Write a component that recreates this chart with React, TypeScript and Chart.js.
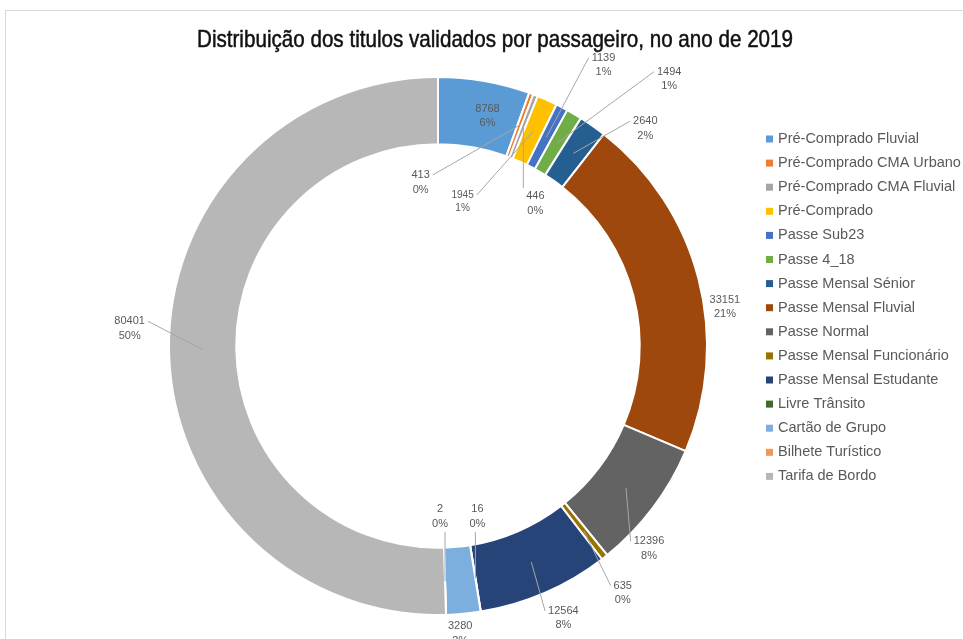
import React, { useEffect, useRef } from "react";
import { Chart, registerables } from "chart.js";

Chart.register(...registerables);

const TITLE = "Distribuição dos titulos validados por passageiro, no ano de 2019";

const categories = [
  "Pré-Comprado Fluvial",
  "Pré-Comprado CMA Urbano",
  "Pré-Comprado CMA Fluvial",
  "Pré-Comprado",
  "Passe Sub23",
  "Passe 4_18",
  "Passe Mensal Sénior",
  "Passe Mensal Fluvial",
  "Passe Normal",
  "Passe Mensal Funcionário",
  "Passe Mensal Estudante",
  "Livre Trânsito",
  "Cartão de Grupo",
  "Bilhete Turístico",
  "Tarifa de Bordo",
];

const values = [8768, 413, 446, 1945, 1139, 1494, 2640, 33151, 12396, 635, 12564, 16, 3280, 2, 80401];

const colors = [
  "#5B9BD5", "#ED7D31", "#A5A5A5", "#FFC000", "#4472C4", "#70AD47", "#255E91",
  "#9E480E", "#636363", "#997300", "#264478", "#43682B", "#7CAFDD", "#F1975A", "#B7B7B7",
];

// label placement offsets (px) relative to each slice's mid-ring anchor
const labelOffsets: [number, number][] = [
  [9, 2], [-99, 57], [12, 77], [-71, 71], [57, -72], [112, -64], [72, -25],
  [59, 20], [23, 61], [39, 62], [32, 56], [2, -62], [0, 53], [-5, -65], [-73, -21],
];
const showLeader = [false, true, true, true, true, true, true, false, true, true, true, true, false, true, true];
const labelFontSizes = [11, 11, 11, 10, 11, 11, 11, 11, 11, 11, 11, 11, 11, 11, 11];

const FONT = "'Liberation Sans', Arial, sans-serif";

const overlayPlugin = {
  id: "overlay",
  afterDraw(chart: any) {
    const ctx = chart.ctx as CanvasRenderingContext2D;
    ctx.save();
    // frame
    ctx.strokeStyle = "#d9d9d9";
    ctx.lineWidth = 1;
    ctx.strokeRect(5.5, 10.5, 1100, 1000);

    // title (condensed look via horizontal scaling)
    ctx.save();
    ctx.font = "24px 'Liberation Sans', Arial, sans-serif";
    const tw = ctx.measureText(TITLE).width;
    const sx = 596 / tw;
    ctx.translate(495, 47);
    ctx.scale(sx, 1);
    ctx.fillStyle = "#111";
    ctx.strokeStyle = "#111";
    ctx.lineWidth = 0.5;
    ctx.textAlign = "center";
    ctx.textBaseline = "alphabetic";
    ctx.fillText(TITLE, 0, 0);
    ctx.strokeText(TITLE, 0, 0);
    ctx.restore();

    // data labels
    const meta = chart.getDatasetMeta(0);
    const data = chart.data.datasets[0].data as number[];
    const total = data.reduce((a, b) => a + b, 0);
    meta.data.forEach((arc: any, i: number) => {
      const p = arc.getProps(["x", "y", "startAngle", "endAngle", "innerRadius", "outerRadius"], true);
      const mid = (p.startAngle + p.endAngle) / 2;
      const r = (p.innerRadius + p.outerRadius) / 2;
      const ax = p.x + r * Math.cos(mid);
      const ay = p.y + r * Math.sin(mid);
      const [dx, dy] = labelOffsets[i];
      const cx = ax + dx;
      const cy = ay + dy;
      const fs = labelFontSizes[i];
      const l1 = String(data[i]);
      const l2 = Math.round((data[i] / total) * 100) + "%";
      ctx.font = `${fs}px ${FONT}`;
      const w = Math.max(ctx.measureText(l1).width, ctx.measureText(l2).width);
      const lh = fs + 3.5;
      const h = lh * 2;
      if (showLeader[i]) {
        const bx0 = cx - w / 2 - 3, bx1 = cx + w / 2 + 3;
        const by0 = cy - h / 2 - 1, by1 = cy + h / 2 + 1;
        let ex = Math.min(Math.max(ax, bx0), bx1);
        let ey = Math.min(Math.max(ay, by0), by1);
        if (ax > bx0 && ax < bx1 && ay > by0 && ay < by1) { ex = ax; ey = ay; }
        if (ex === bx0 || ex === bx1) ey = cy - lh / 2;
        ctx.strokeStyle = "#a6a6a6";
        ctx.lineWidth = 1;
        ctx.beginPath();
        ctx.moveTo(ax, ay);
        ctx.lineTo(ex, ey);
        ctx.stroke();
      }
      ctx.fillStyle = "#595959";
      ctx.textAlign = "center";
      ctx.textBaseline = "middle";
      ctx.fillText(l1, cx, cy - lh / 2);
      ctx.fillText(l2, cx, cy + lh / 2);
    });

    // legend
    const labels = chart.data.labels as string[];
    const bg = chart.data.datasets[0].backgroundColor as string[];
    ctx.font = `14.5px ${FONT}`;
    ctx.textAlign = "left";
    ctx.textBaseline = "middle";
    labels.forEach((lab, i) => {
      const y = 139 + i * 24.1;
      ctx.fillStyle = bg[i];
      ctx.fillRect(766, y - 3.5, 7, 7);
      ctx.fillStyle = "#595959";
      ctx.fillText(lab, 778, y);
    });
    ctx.restore();
  },
};

export default function App() {
  const ref = useRef<HTMLCanvasElement>(null);
  useEffect(() => {
    document.body.style.margin = "0";
    const chart = new Chart(ref.current!, {
      type: "doughnut",
      data: {
        labels: categories,
        datasets: [
          {
            data: values,
            backgroundColor: colors,
            borderColor: "#ffffff",
            borderWidth: 2,
            hoverOffset: 0,
            offset: 0,
          },
        ],
      },
      options: {
        responsive: true,
        maintainAspectRatio: false,
        animation: false,
        cutout: "75%",
        layout: { padding: { left: 168, right: 255, top: 76, bottom: 23 } },
        plugins: {
          legend: { display: false },
          title: { display: false },
          tooltip: { enabled: false },
        },
      },
      plugins: [overlayPlugin],
    });
    return () => chart.destroy();
  }, []);
  return (
    <div style={{ position: "absolute", left: 0, top: 0, width: 963, height: 639, background: "#fff" }}>
      <canvas ref={ref} />
    </div>
  );
}
